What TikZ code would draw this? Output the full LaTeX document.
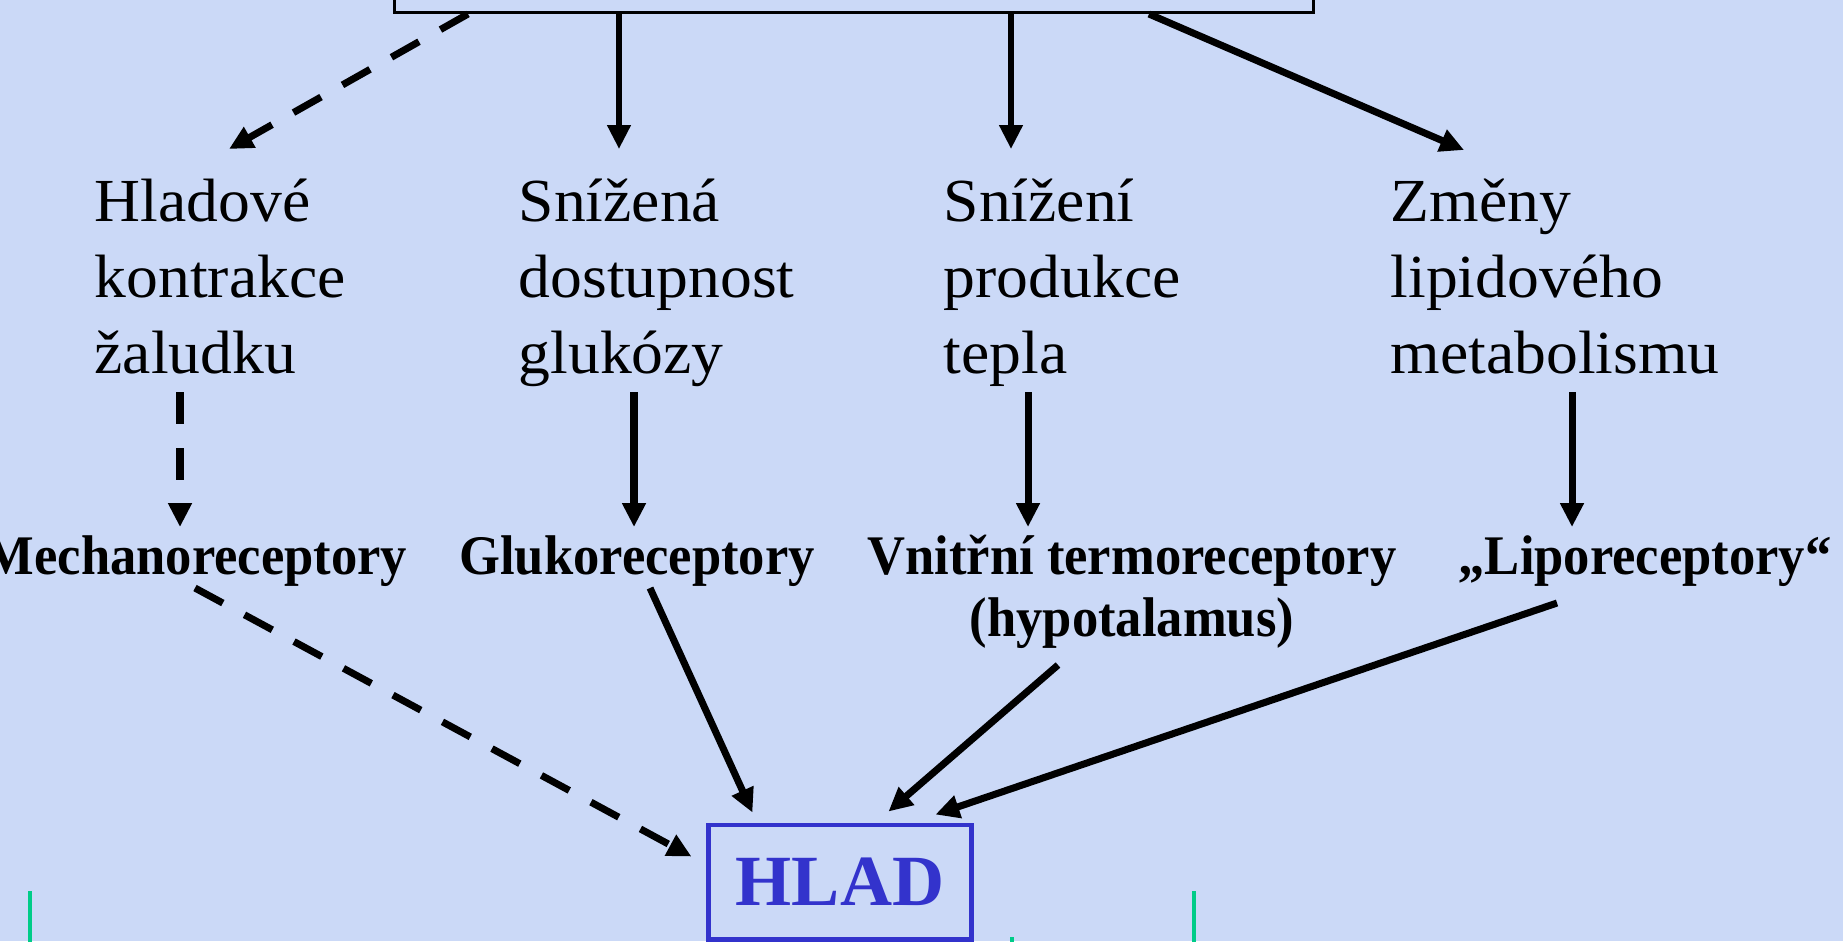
\documentclass[tikz,border=0pt]{standalone}
\usepackage{fontspec}
\setmainfont{Liberation Serif}
\newfontfamily\causefont[FakeStretch=1.04]{Liberation Serif}
\newfontfamily\recfont[FakeStretch=0.94]{Liberation Serif}
\usepackage{tikz}
\usetikzlibrary{calc,arrows.meta,positioning}
\usepackage{xcolor}
\definecolor{bgblue}{RGB}{203,217,247}
\definecolor{hladblue}{RGB}{51,51,204}
\definecolor{mintgreen}{RGB}{0,204,136}

\begin{document}
\begin{tikzpicture}[x=0.01cm, y=-0.01cm, >={Triangle[length=6.8pt,width=6.4pt]}, link/.style={draw=black, line width=2pt, ->}, dashlink/.style={link, dash pattern=on 9pt off 7pt}]
% Define styles for texts, receptors and the hunger box
\tikzstyle{cause} = [anchor=base west, align=left, inner sep=0pt, font=\causefont\fontsize{17.4}{21.6}\selectfont]
\tikzstyle{receptor} = [anchor=base, align=center, inner sep=0pt, font=\recfont\bfseries\fontsize{15.9}{17.6}\selectfont]
\tikzstyle{hladbox} = [draw=hladblue, line width=1.4pt, minimum width=2.62cm, minimum height=1.14cm, inner sep=0pt, text=hladblue, font=\bfseries\fontsize{20.5}{24}\selectfont]
\tikzstyle{edge} = [draw=mintgreen, line width=1.4pt]

% Background
\fill[bgblue] (0,0) rectangle (1843,941);
\useasboundingbox (0,0) rectangle (1843,941);

% Nodes placement (base = last line)
\node [draw, line width=0.9pt, minimum width=9.18cm, minimum height=1.2cm, anchor=south, inner sep=0pt] (top) at (854,14) {};

\node [cause] (hladove) at (94,373) {Hladové\\kontrakce\\žaludku};
\node [cause] (glukoza) at (518,373) {Snížená\\dostupnost\\glukózy};
\node [cause] (teplo) at (943,373) {Snížení\\produkce\\tepla};
\node [cause] (lipidy) at (1390,373) {Změny\\lipidového\\metabolismu};

\node [receptor] (mechano) at (196,574) {Mechanoreceptory};
\node [receptor] (gluko) at (637,574) {Glukoreceptory};
\node [receptor] (termo) at (1132,636) {Vnitřní termoreceptory\\(hypotalamus)};
\node [receptor] (lipo) at (1645,574) {„Liporeceptory“};

\node [hladbox] (hlad) at (840,882) {HLAD};

% Draw edges
\draw[dashlink] ($(top.south)+(-386,0)$) -- ($(hladove.base west)+(135,-224)$);
\draw[link, line width=1.6pt] ($(top.south)+(-235,0)$) -- ($(glukoza.base west)+(101,-224)$);
\draw[link, line width=1.6pt] ($(top.south)+(157,0)$) -- ($(teplo.base west)+(68,-224)$);
\draw[link] ($(top.south)+(295,0)$) -- ($(lipidy.base west)+(74,-223)$);

\draw[dashlink] ($(hladove.base west)+(86,19)$) -- ($(mechano.base)+(-16,-47)$);
\draw[link] ($(glukoza.base west)+(116,19)$) -- ($(gluko.base)+(-3,-47)$);
\draw[link] ($(teplo.base west)+(85,19)$) -- ($(termo.base)+(-104,-109)$);
\draw[link] ($(lipidy.base west)+(182,19)$) -- ($(lipo.base)+(-73,-47)$);

\draw[dashlink] ($(mechano.base)+(-1,14)$) -- ($(hlad.north west)+(-15,34)$);
\draw[link] ($(gluko.base)+(13,14)$) -- ($(hlad.north west)+(46,-10)$);
\draw[link] ($(termo.base)+(-74,29)$) -- ($(hlad.north west)+(182,-11)$);
\draw[link] ($(lipo.base)+(-88,29)$) -- ($(hlad.north west)+(229,-8)$);

% Green strokes at the lower edge
\draw[edge] (30,891) -- (30,945);
\draw[edge] (1012,937) -- (1012,945);
\draw[edge] (1194,891) -- (1194,945);
\end{tikzpicture}
\end{document}
